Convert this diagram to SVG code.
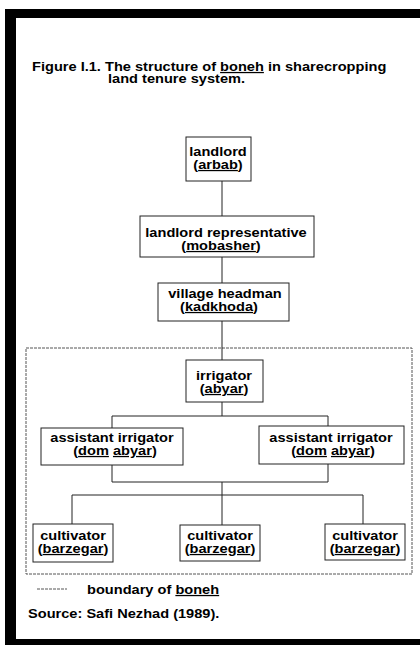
<svg xmlns="http://www.w3.org/2000/svg" width="420" height="646" viewBox="0 0 420 646">
  <style>
    .frame { fill: #000; }
    .box { fill: #fff; stroke: #222; stroke-width: 1; }
    .wire { fill: none; stroke: #222; stroke-width: 1; }
    .bound { fill: none; stroke: #555; stroke-width: 1; stroke-dasharray: 3 1; }
    text { font-family: "Liberation Sans", Arial, Helvetica, sans-serif; font-weight: bold; font-size: 14.6px; fill: #000; }
    .c { text-anchor: middle; }
    .u { text-decoration: underline; }
  </style>

  <!-- page frame -->
  <rect class="frame" x="5" y="9" width="11" height="636"/>
  <rect class="frame" x="5" y="9" width="415" height="9"/>
  <rect class="frame" x="5" y="639" width="415" height="6"/>

  <!-- caption -->
  <g id="title">
    <text transform="translate(32 71) scale(1 .86)">Figure I.1. The structure of <tspan class="u">boneh</tspan> in sharecropping</text>
    <text transform="translate(108 83) scale(1 .86)">land tenure system.</text>
  </g>

  <!-- boneh boundary -->
  <rect id="boneh-boundary" class="bound" x="26" y="348" width="386" height="226"/>

  <!-- connectors -->
  <g id="connectors">
    <path class="wire" d="M222 181V216"/>
    <path class="wire" d="M222 257V283"/>
    <path class="wire" d="M222 321V360"/>
    <path class="wire" d="M222 402V416M112 416H328M112 416V428M328 416V426"/>
    <path class="wire" d="M112 465V482M328 464V482M112 482H328M222 482V525"/>
    <path class="wire" d="M72 495H363M72 495V524M363 495V524"/>
  </g>

  <!-- nodes -->
  <g id="landlord">
    <rect class="box" x="186" y="137" width="65" height="44"/>
    <text class="c" transform="translate(218 156) scale(1 .86)">landlord</text>
    <text class="c" transform="translate(218 169) scale(1 .86)">(<tspan class="u">arbab</tspan>)</text>
  </g>

  <g id="landlord-representative">
    <rect class="box" x="140" y="216" width="174" height="41"/>
    <text class="c" transform="translate(226 237) scale(1 .86)">landlord representative</text>
    <text class="c" transform="translate(221 250) scale(1 .86)">(<tspan class="u">mobasher</tspan>)</text>
  </g>

  <g id="village-headman">
    <rect class="box" x="158" y="283" width="131" height="38"/>
    <text class="c" transform="translate(225 298) scale(1 .86)">village headman</text>
    <text class="c" transform="translate(219 311) scale(1 .86)">(<tspan class="u">kadkhoda</tspan>)</text>
  </g>

  <g id="irrigator">
    <rect class="box" x="186" y="360" width="77" height="42"/>
    <text class="c" transform="translate(224 380) scale(1 .86)">irrigator</text>
    <text class="c" transform="translate(224 393) scale(1 .86)">(<tspan class="u">abyar</tspan>)</text>
  </g>

  <g id="assistant-irrigator-left">
    <rect class="box" x="41" y="428" width="142" height="37"/>
    <text class="c" transform="translate(112 442) scale(1 .86)">assistant irrigator</text>
    <text class="c" transform="translate(115 455) scale(1 .86)">(<tspan class="u">dom</tspan> <tspan class="u">abyar</tspan>)</text>
  </g>

  <g id="assistant-irrigator-right">
    <rect class="box" x="259" y="426" width="145" height="38"/>
    <text class="c" transform="translate(331 442) scale(1 .86)">assistant irrigator</text>
    <text class="c" transform="translate(333 455) scale(1 .86)">(<tspan class="u">dom</tspan> <tspan class="u">abyar</tspan>)</text>
  </g>

  <g id="cultivator-left">
    <rect class="box" x="33" y="524" width="80" height="38"/>
    <text class="c" transform="translate(73 540) scale(1 .86)">cultivator</text>
    <text class="c" transform="translate(73 553) scale(1 .86)">(<tspan class="u">barzegar</tspan>)</text>
  </g>

  <g id="cultivator-middle">
    <rect class="box" x="180" y="525" width="80" height="36"/>
    <text class="c" transform="translate(220 540) scale(1 .86)">cultivator</text>
    <text class="c" transform="translate(220 553) scale(1 .86)">(<tspan class="u">barzegar</tspan>)</text>
  </g>

  <g id="cultivator-right">
    <rect class="box" x="325" y="524" width="80" height="36"/>
    <text class="c" transform="translate(365 540) scale(1 .86)">cultivator</text>
    <text class="c" transform="translate(365 553) scale(1 .86)">(<tspan class="u">barzegar</tspan>)</text>
  </g>

  <!-- key and source -->
  <g id="legend">
    <path class="bound" d="M37 589H67"/>
    <text transform="translate(87 594) scale(1 .86)">boundary of <tspan class="u">boneh</tspan></text>
    <text transform="translate(28 618) scale(1 .86)">Source: Safi Nezhad (1989).</text>
  </g>
</svg>
